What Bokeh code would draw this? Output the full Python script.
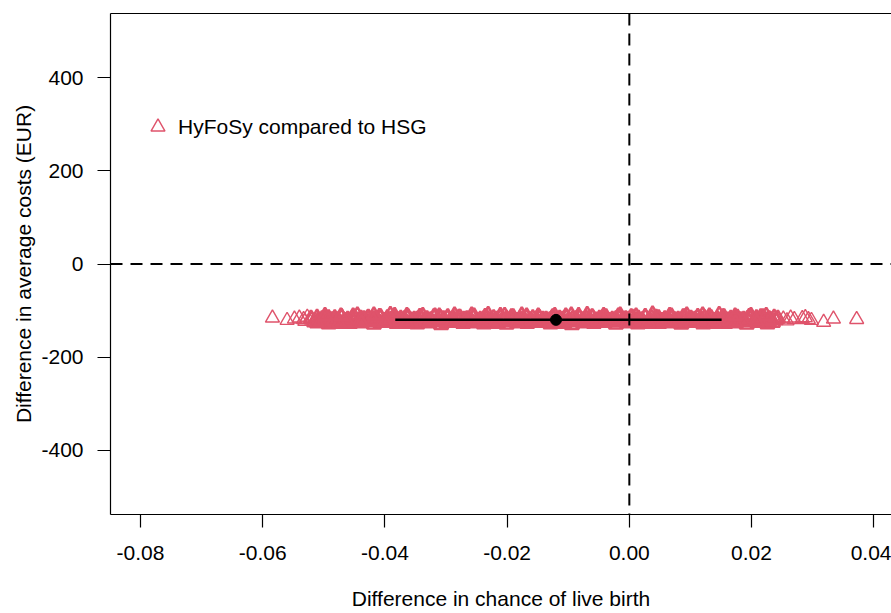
from bokeh.plotting import figure
from bokeh.models import Range1d, FixedTicker, Span, Legend, LegendItem, LinearAxis
from bokeh.embed import file_html
from bokeh.resources import INLINE

# ---- data ----
x_ticks = [-0.08, -0.06, -0.04, -0.02, 0.00, 0.02, 0.04]
y_ticks = [-400, -200, 0, 200, 400]

row1_x = [-0.0498, -0.0471, -0.0452, -0.0427, -0.0409, -0.0384, -0.0362, -0.0343, -0.0318, -0.0297,
          -0.0279, -0.0254, -0.0236, -0.0211, -0.0193, -0.0168, -0.0149, -0.0126, -0.0104, -0.0083,
          -0.0061, -0.0042, -0.0018, 0.0003, 0.0026, 0.0044, 0.0069, 0.0088, 0.0112, 0.0131,
          0.0153, 0.0174, 0.0196, 0.0215]
row1_y = [-113, -114, -112, -115, -113, -111, -114, -113, -112, -114,
          -115, -112, -113, -111, -114, -112, -113, -115, -112, -111,
          -114, -113, -112, -114, -113, -115, -112, -114, -113, -112,
          -114, -115, -113, -114]

row2_x = [-0.0521, -0.0503, -0.0482, -0.0461, -0.0439, -0.0418, -0.0396, -0.0374, -0.0352, -0.0331,
          -0.0309, -0.0288, -0.0266, -0.0244, -0.0222, -0.0201, -0.0179, -0.0158, -0.0136, -0.0114,
          -0.0093, -0.0071, -0.0049, -0.0028, -0.0006, 0.0015, 0.0037, 0.0058, 0.0080, 0.0101,
          0.0123, 0.0144, 0.0166, 0.0187, 0.0208, 0.0229, 0.0243]
row2_y = [-117, -118, -116, -119, -117, -118, -116, -117, -119, -118,
          -116, -117, -118, -119, -116, -117, -118, -116, -119, -117,
          -118, -116, -117, -119, -118, -117, -116, -118, -119, -117,
          -116, -118, -117, -119, -116, -118, -117]

row3_x = [-0.0509, -0.0487, -0.0466, -0.0444, -0.0423, -0.0401, -0.0379, -0.0357, -0.0336, -0.0314,
          -0.0293, -0.0271, -0.0249, -0.0228, -0.0206, -0.0184, -0.0163, -0.0141, -0.0119, -0.0098,
          -0.0076, -0.0055, -0.0033, -0.0011, 0.0010, 0.0032, 0.0053, 0.0075, 0.0096, 0.0118,
          0.0139, 0.0161, 0.0182, 0.0204, 0.0225, 0.0240]
row3_y = [-121, -120, -122, -121, -119, -122, -120, -121, -122, -120,
          -121, -119, -122, -120, -121, -122, -120, -119, -121, -122,
          -120, -121, -122, -119, -120, -121, -122, -120, -121, -119,
          -122, -121, -120, -122, -121, -120]

row4_x = [-0.0516, -0.0494, -0.0473, -0.0451, -0.0430, -0.0408, -0.0387, -0.0365, -0.0343, -0.0322,
          -0.0300, -0.0279, -0.0257, -0.0235, -0.0214, -0.0192, -0.0171, -0.0149, -0.0127, -0.0106,
          -0.0084, -0.0063, -0.0041, -0.0019, 0.0002, 0.0024, 0.0045, 0.0067, 0.0089, 0.0110,
          0.0132, 0.0153, 0.0175, 0.0196, 0.0218, 0.0235]
row4_y = [-125, -124, -126, -125, -124, -126, -125, -127, -124, -125,
          -126, -124, -125, -127, -126, -124, -125, -126, -124, -127,
          -125, -126, -124, -125, -126, -127, -124, -125, -126, -124,
          -125, -127, -126, -124, -125, -126]

row5_x = [-0.0492, -0.0457, -0.0418, -0.0381, -0.0347, -0.0308, -0.0272, -0.0238, -0.0201, -0.0167,
          -0.0129, -0.0094, -0.0058, -0.0022, 0.0014, 0.0049, 0.0085, 0.0121, 0.0157, 0.0192, 0.0226]
row5_y = [-129, -128, -130, -128, -129, -131, -128, -129, -130, -128,
          -129, -131, -128, -130, -129, -128, -130, -129, -128, -130, -129]

row6_x = [-0.0445, -0.0391, -0.0338, -0.0286, -0.0231, -0.0176, -0.0122, -0.0069, -0.0015, 0.0038,
          0.0094, 0.0147, 0.0199]
row6_y = [-110, -109, -111, -110, -109, -110, -111, -109, -110, -108, -110, -109, -111]

row7_x = [-0.0511, -0.0492, -0.0471, -0.0450, -0.0428, -0.0407, -0.0385, -0.0363, -0.0341, -0.0320,
          -0.0298, -0.0277, -0.0255, -0.0233, -0.0211, -0.0190, -0.0168, -0.0147, -0.0125, -0.0103,
          -0.0082, -0.0060, -0.0038, -0.0017, 0.0005, 0.0026, 0.0048, 0.0069, 0.0091, 0.0112,
          0.0134, 0.0155, 0.0177, 0.0198, 0.0219, 0.0237]
row7_y = [-115, -116, -114, -115, -116, -114, -115, -116, -115, -114,
          -116, -115, -114, -116, -115, -114, -115, -116, -114, -115,
          -116, -115, -114, -116, -115, -114, -116, -115, -114, -115,
          -116, -114, -115, -116, -114, -115]

row8_x = [-0.0520, -0.0498, -0.0477, -0.0455, -0.0434, -0.0412, -0.0390, -0.0368, -0.0347, -0.0325,
          -0.0304, -0.0282, -0.0260, -0.0238, -0.0217, -0.0195, -0.0174, -0.0152, -0.0130, -0.0109,
          -0.0087, -0.0066, -0.0044, -0.0022, -0.0001, 0.0021, 0.0042, 0.0064, 0.0086, 0.0107,
          0.0129, 0.0150, 0.0172, 0.0193, 0.0214, 0.0233]
row8_y = [-119, -118, -120, -119, -118, -120, -119, -118, -119, -120,
          -118, -119, -120, -118, -119, -120, -118, -119, -120, -119,
          -118, -119, -120, -118, -119, -120, -119, -118, -120, -119,
          -118, -120, -119, -118, -119, -120]

row9_x = [-0.0505, -0.0483, -0.0462, -0.0440, -0.0419, -0.0397, -0.0376, -0.0354, -0.0332, -0.0311,
          -0.0289, -0.0268, -0.0246, -0.0224, -0.0203, -0.0181, -0.0160, -0.0138, -0.0116, -0.0095,
          -0.0073, -0.0052, -0.0030, -0.0008, 0.0013, 0.0035, 0.0056, 0.0078, 0.0100, 0.0121,
          0.0143, 0.0164, 0.0186, 0.0207, 0.0229]
row9_y = [-123, -122, -124, -123, -122, -124, -123, -122, -123, -124,
          -122, -123, -124, -123, -122, -124, -123, -122, -123, -124,
          -122, -123, -124, -122, -123, -124, -123, -122, -124, -123,
          -122, -123, -124, -122, -123]

row10_x = [-0.0511, -0.0475, -0.0438, -0.0400, -0.0364, -0.0327, -0.0290, -0.0255, -0.0219, -0.0184,
           -0.0148, -0.0111, -0.0076, -0.0040, -0.0004, 0.0031, 0.0067, 0.0103, 0.0139, 0.0174, 0.0209]
row10_y = [-127, -128, -127, -126, -128, -127, -126, -127, -128, -127,
           -126, -128, -127, -126, -127, -128, -127, -126, -128, -127, -126]

row11_x = [-0.0498, -0.0472, -0.0418, -0.0364, -0.0311, -0.0258, -0.0204, -0.0149, -0.0095, -0.0042,
           0.0011, 0.0066, 0.0120, 0.0173, 0.0224]
row11_y = [-111, -112, -110, -111, -112, -110, -111, -112, -110, -111, -112, -111, -110, -112, -111]

left_out_x = [-0.0584, -0.0560, -0.0548, -0.0540, -0.0533, -0.0527, -0.0531]
left_out_y = [-116, -121, -118, -116, -119, -114, -123]

right_out_x = [0.0252, 0.0258, 0.0264, 0.0270, 0.0283, 0.0288, 0.0293, 0.0298, 0.0318, 0.0334, 0.0372]
right_out_y = [-118, -122, -116, -119, -117, -115, -119, -121, -125, -118, -119]

mean_x = [-0.0120]
mean_y = [-120]
ci_low = [-0.0383]
ci_high = [0.0151]

# ---- assemble ----
def join(pairs):
    xs, ys = [], []
    for rx, ry in pairs:
        n = min(len(rx), len(ry))
        xs += rx[:n]
        ys += ry[:n]
    return xs, ys

band_x, band_y = join([(row1_x, row1_y), (row2_x, row2_y), (row3_x, row3_y), (row4_x, row4_y),
                       (row5_x, row5_y), (row6_x, row6_y), (row7_x, row7_y), (row8_x, row8_y),
                       (row9_x, row9_y), (row10_x, row10_y), (row11_x, row11_y)])
tail_x, tail_y = join([(left_out_x, left_out_y), (right_out_x, right_out_y)])

FONT = "Liberation Sans"
PINK = "#DF536B"

p = figure(width=891, height=613,
           x_range=Range1d(-0.0849, 0.0429), y_range=Range1d(-538, 538),
           output_backend="svg", toolbar_location=None,
           min_border_left=110, min_border_right=0, min_border_top=13, min_border_bottom=99)

p.grid.visible = False
p.outline_line_color = None
p.background_fill_color = "white"
p.border_fill_color = "white"

for ax in (p.xaxis[0], p.yaxis[0]):
    ax.major_tick_out = 13
    ax.major_tick_in = 0
    ax.minor_tick_line_color = None
    ax.major_tick_line_width = 1.2
    ax.axis_line_width = 1.2
    ax.axis_line_color = "black"
    ax.major_tick_line_color = "black"
    ax.major_label_text_font = FONT
    ax.major_label_text_font_size = "21px"
    ax.major_label_text_color = "black"
    ax.axis_label_text_font = FONT
    ax.axis_label_text_font_size = "21px"
    ax.axis_label_text_font_style = "normal"
    ax.axis_label_text_color = "black"

p.xaxis[0].ticker = FixedTicker(ticks=x_ticks)
p.xaxis[0].major_label_overrides = {t: f"{t:.2f}" for t in x_ticks}
p.xaxis[0].major_label_standoff = 18
p.xaxis[0].axis_label = "Difference in chance of live birth"
p.xaxis[0].axis_label_standoff = 24

p.yaxis[0].ticker = FixedTicker(ticks=y_ticks)
p.yaxis[0].major_label_overrides = {t: f"{t:d}" for t in y_ticks}
p.yaxis[0].major_label_standoff = 14
p.yaxis[0].major_label_orientation = "horizontal"
p.yaxis[0].axis_label = "Difference in average costs (EUR)"
p.yaxis[0].axis_label_standoff = 3

# top edge of the box (the right edge falls outside the picture)
top_ax = LinearAxis(ticker=FixedTicker(ticks=[]), major_label_text_font_size="0px",
                    major_tick_out=0, major_tick_in=0, minor_tick_out=0, minor_tick_in=0,
                    major_label_standoff=0, axis_line_color="black", axis_line_width=1.2)
p.add_layout(top_ax, "above")

# dense part of the cloud: thousands of overlapping outlines read as a solid band
p.scatter(band_x, band_y, marker="triangle", size=14, line_color=PINK, fill_color=None, line_width=2.6)
pts = p.scatter(tail_x, tail_y, marker="triangle", size=14, line_color=PINK, fill_color=None, line_width=1.4)

p.segment(x0=ci_low, y0=mean_y, x1=ci_high, y1=mean_y, line_color="black", line_width=2.5)
p.scatter(mean_x, mean_y, marker="circle", size=11, color="black")

p.add_layout(Span(location=0, dimension="height", line_color="black", line_width=2, line_dash="12 8"))
p.add_layout(Span(location=0, dimension="width", line_color="black", line_width=2, line_dash="12 8"))

legend = Legend(items=[LegendItem(label="HyFoSy compared to HSG", renderers=[pts])],
                location=(30, 370), border_line_color=None, background_fill_alpha=0,
                label_text_font=FONT, label_text_font_size="21px", label_text_color="black",
                glyph_width=35, glyph_height=35, label_standoff=3, padding=0, margin=0)
p.add_layout(legend)

open("out.html", "w").write(file_html(p, INLINE))
